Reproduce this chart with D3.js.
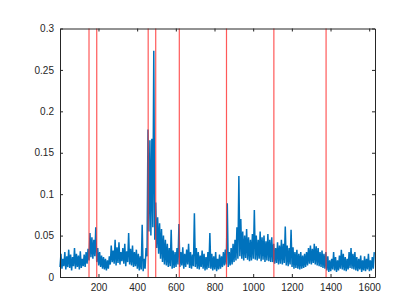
<!DOCTYPE html>
<html>
<head>
<meta charset="utf-8">
<script src="https://cdn.jsdelivr.net/npm/d3@7"></script>
<style>
  body { margin: 0; background: #fff; }
  svg text { font-family: "Liberation Sans", Helvetica, Arial, sans-serif; font-size: 10px; fill: #262626; }
</style>
</head>
<body>
<svg></svg>
<script>
var width = 415,
    height = 307,
    margin = { top: 28.5, right: 40, bottom: 30, left: 60 };

// upper / lower envelope of the signal, one pair per 10 samples
var hiVals = [
  0.028, 0.022, 0.030, 0.025, 0.033, 0.027, 0.024, 0.035, 0.028, 0.026, 0.031, 0.022, 0.027, 0.030, 0.034,
  0.053, 0.048, 0.045, 0.060,
  0.035, 0.030, 0.026, 0.024, 0.022, 0.020, 0.025,
  0.038, 0.032, 0.045, 0.036, 0.042, 0.030, 0.035, 0.040, 0.031, 0.053, 0.034, 0.038, 0.030, 0.033, 0.028, 0.025, 0.063, 0.022, 0.035,
  0.178, 0.165, 0.167, 0.273, 0.090,
  0.072, 0.065, 0.058, 0.050, 0.045, 0.040, 0.035, 0.057, 0.032, 0.030, 0.035, 0.064,
  0.030, 0.036, 0.028, 0.033, 0.040, 0.030, 0.027, 0.077, 0.035, 0.030, 0.026, 0.032, 0.028, 0.024, 0.030, 0.053, 0.028, 0.025, 0.030, 0.022, 0.027, 0.025, 0.030, 0.033,
  0.089,
  0.030, 0.035, 0.040, 0.045, 0.060, 0.122, 0.070, 0.055, 0.050, 0.058, 0.048, 0.045, 0.052, 0.081, 0.050, 0.045, 0.055, 0.048, 0.050, 0.043, 0.052, 0.045, 0.048,
  0.040, 0.035, 0.042, 0.038, 0.045, 0.040, 0.061, 0.038, 0.035, 0.057, 0.036, 0.030, 0.033, 0.028, 0.030, 0.026, 0.028, 0.030, 0.035, 0.038, 0.034, 0.040, 0.037, 0.035, 0.030, 0.032, 0.028, 0.030,
  0.025, 0.020, 0.022, 0.030, 0.024, 0.020, 0.026, 0.033, 0.028, 0.024, 0.022, 0.030, 0.035, 0.028, 0.030, 0.024, 0.022, 0.026, 0.020, 0.025, 0.022, 0.028, 0.020, 0.024, 0.030
];
var loVals = [
  0.012, 0.010, 0.013, 0.009, 0.012, 0.011, 0.008, 0.013, 0.010, 0.012, 0.009, 0.011, 0.013, 0.012, 0.016,
  0.020, 0.024, 0.022, 0.025,
  0.018, 0.014, 0.012, 0.010, 0.009, 0.008, 0.010,
  0.015, 0.018, 0.016, 0.014, 0.017, 0.015, 0.019, 0.016, 0.013, 0.018, 0.015, 0.014, 0.012, 0.013, 0.010, 0.008, 0.009, 0.007, 0.010,
  0.025, 0.055, 0.050, 0.060, 0.045,
  0.035, 0.028, 0.022, 0.018, 0.015, 0.014, 0.012, 0.013, 0.010, 0.011, 0.012, 0.015,
  0.012, 0.014, 0.010, 0.012, 0.015, 0.011, 0.010, 0.013, 0.012, 0.010, 0.009, 0.012, 0.010, 0.008, 0.009, 0.011, 0.010, 0.008, 0.009, 0.007, 0.009, 0.010, 0.012, 0.014,
  0.015,
  0.012, 0.014, 0.015, 0.018, 0.020, 0.022, 0.025, 0.022, 0.020, 0.023, 0.021, 0.019, 0.020, 0.022, 0.021, 0.020, 0.022, 0.019, 0.021, 0.018, 0.020, 0.019, 0.018,
  0.018, 0.016, 0.017, 0.015, 0.016, 0.015, 0.017, 0.014, 0.013, 0.015, 0.012, 0.010, 0.011, 0.010, 0.009, 0.010, 0.011, 0.012, 0.014, 0.016, 0.015, 0.017, 0.015, 0.014, 0.013, 0.012, 0.011, 0.010,
  0.008, 0.006, 0.007, 0.009, 0.008, 0.006, 0.008, 0.010, 0.009, 0.008, 0.007, 0.009, 0.011, 0.010, 0.009, 0.008, 0.007, 0.009, 0.006, 0.008, 0.007, 0.009, 0.007, 0.008, 0.010
];
var markers = [151, 191, 457, 496, 618, 862, 1107, 1377];
var xTicks = [200, 400, 600, 800, 1000, 1200, 1400, 1600];
var yTicks = [0, 0.05, 0.1, 0.15, 0.2, 0.25, 0.3];

var svg = d3.select("svg")
    .attr("width", width)
    .attr("height", height);

var x = d3.scaleLinear()
    .domain([1, 1630])
    .range([margin.left, width - margin.right]);

var y = d3.scaleLinear()
    .domain([0, 0.3])
    .range([277, margin.top]);

// zigzag low -> high inside every 10-sample bin
var points = [];
hiVals.forEach((h, i) => {
    points.push([1 + i * 10, loVals[i]]);
    points.push([6 + i * 10, h]);
});

var line = d3.line()
    .x(d => x(d[0]))
    .y(d => y(d[1]));

svg.append("path")
    .datum(points)
    .attr("fill", "none")
    .attr("stroke", "#0072BD")
    .attr("stroke-width", 1.5)
    .attr("stroke-linejoin", "miter")
    .attr("d", line);

svg.append("g")
    .selectAll("line")
    .data(markers)
    .enter().append("line")
    .attr("x1", d => x(d))
    .attr("x2", d => x(d))
    .attr("y1", y(0))
    .attr("y2", y(0.3))
    .attr("stroke", "#ff3030")
    .attr("stroke-opacity", 0.8)
    .attr("stroke-width", 1.2);

var axisColor = "#262626";

var gx = svg.append("g")
    .attr("transform", "translate(0," + y(0) + ")")
    .call(d3.axisBottom(x).tickValues(xTicks).tickSizeInner(-3).tickSizeOuter(0).tickPadding(7).tickFormat(d3.format("d")));
var gxTop = svg.append("g")
    .attr("transform", "translate(0," + y(0.3) + ")")
    .call(d3.axisTop(x).tickValues(xTicks).tickSizeInner(-3).tickSizeOuter(0).tickFormat(""));
var gy = svg.append("g")
    .attr("transform", "translate(" + x(1) + ",0)")
    .call(d3.axisLeft(y).tickValues(yTicks).tickSizeInner(-3).tickSizeOuter(0).tickPadding(6).tickFormat(d => d3.format("~g")(d)));
var gyRight = svg.append("g")
    .attr("transform", "translate(" + x(1630) + ",0)")
    .call(d3.axisRight(y).tickValues(yTicks).tickSizeInner(-3).tickSizeOuter(0).tickFormat(""));

[gx, gxTop, gy, gyRight].forEach(g => {
    g.select(".domain").attr("stroke", axisColor).attr("stroke-width", 1);
    g.selectAll(".tick line").attr("stroke", axisColor);
    g.selectAll("text").attr("fill", axisColor).style("font-size", "10px");
});
</script>
</body>
</html>
